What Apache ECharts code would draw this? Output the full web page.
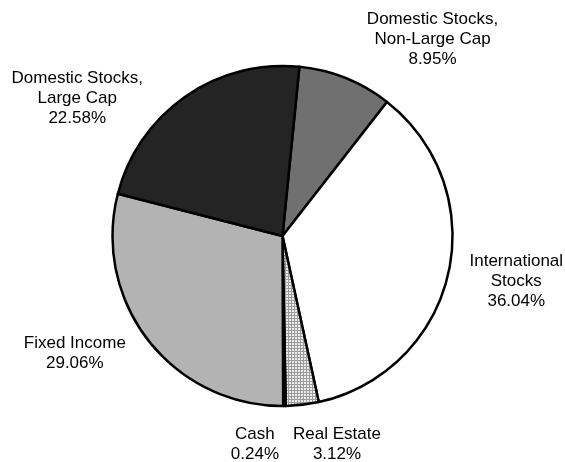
<!DOCTYPE html>
<html>
<head>
<meta charset="utf-8">
<script src="https://cdn.jsdelivr.net/npm/echarts@6/dist/echarts.min.js"></script>
<style>
html,body{margin:0;padding:0;background:#fff;}
#chart{width:565px;height:462px;}
</style>
</head>
<body>
<div id="chart"></div>
<script>
// ---- data ----
var categories = [
  'Domestic Stocks,\nNon-Large Cap',
  'International\nStocks',
  'Real Estate',
  'Cash',
  'Fixed Income',
  'Domestic Stocks,\nLarge Cap'
];
var shares = [8.95, 36.04, 3.12, 0.24, 29.06, 22.58];

// ---- styling ----
function makePattern() {
  var c = document.createElement('canvas');
  c.width = 3; c.height = 3;
  var g = c.getContext('2d');
  g.fillStyle = '#ececec';
  g.fillRect(0, 0, 3, 3);
  g.fillStyle = '#9c9c9c';
  g.fillRect(0, 0, 3, 1);
  g.fillRect(0, 0, 1, 3);
  return c;
}
var fills = ['#707070', '#ffffff', {image: makePattern(), repeat: 'repeat'}, '#808080', '#b3b3b3', '#242424'];
// label offsets relative to the library's default outside anchor
var labelShift = [[72, -2], [29, -1], [30, 0], [-30, -2], [-42, -12], [-85, 34]];

var chart = echarts.init(document.getElementById('chart'), null, {renderer: 'canvas'});
var option = {
  animation: false,
  backgroundColor: '#ffffff',
  series: [{
    type: 'pie',
    center: [282.5, 236],
    radius: 170,
    startAngle: 84.3,
    clockwise: true,
    avoidLabelOverlap: false,
    silent: true,
    itemStyle: {borderColor: '#000000', borderWidth: 2.5},
    label: {
      show: true,
      position: 'outside',
      alignTo: 'none',
      distanceToLabelLine: 0,
      color: '#000000',
      fontFamily: '"Liberation Sans", Arial, sans-serif',
      fontSize: 17,
      lineHeight: 20,
      formatter: function (p) {
        var lines = p.name.split('\n');
        lines.push(p.value.toFixed(2) + '%');
        return lines.map(function (s) { return '{t|' + s + '}'; }).join('\n');
      },
      rich: {
        t: {align: 'center', fontSize: 17, lineHeight: 20, color: '#000000',
            fontFamily: '"Liberation Sans", Arial, sans-serif'}
      }
    },
    labelLine: {show: false, length: 40, length2: 0},
    labelLayout: function (params) {
      var r = params.labelRect;
      var ax = params.align === 'left' ? r.x : (params.align === 'right' ? r.x + r.width : r.x + r.width / 2);
      var ay = r.y + r.height / 2;
      var s = labelShift[params.dataIndex];
      return {x: ax + s[0], y: ay + s[1], align: 'center', verticalAlign: 'middle'};
    },
    data: categories.map(function (n, i) {
      return {name: n, value: shares[i], itemStyle: {color: fills[i]}};
    })
  }]
};
chart.setOption(option);
</script>
</body>
</html>
